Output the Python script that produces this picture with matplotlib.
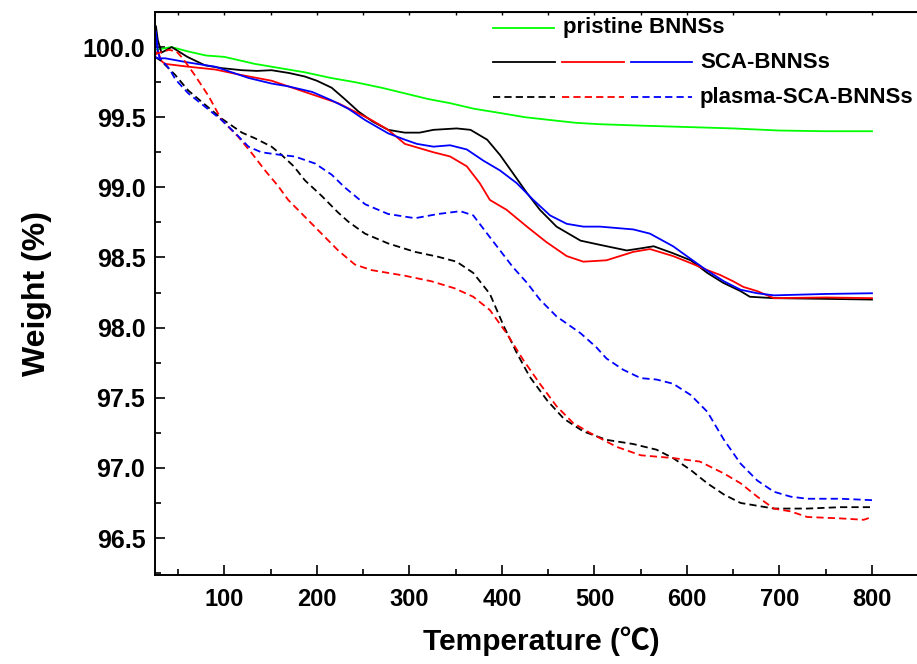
import numpy as np
import matplotlib
matplotlib.use("Agg")
import matplotlib.pyplot as plt
from matplotlib.lines import Line2D

# ---- data (temperature in C, weight in %) ----
pristine_t = [25, 43, 60, 80, 100, 133, 160, 187, 215, 241, 270, 295, 320, 344, 370,
              398, 425, 452, 480, 506, 550, 600, 650, 700, 750, 800]
pristine_w = [99.98, 100.0, 99.97, 99.94, 99.93, 99.88, 99.85, 99.82, 99.78, 99.75, 99.71,
              99.67, 99.63, 99.60, 99.56, 99.53, 99.50, 99.48, 99.46, 99.45, 99.44, 99.43,
              99.42, 99.405, 99.40, 99.40]

sca1_t = [25, 26, 28, 32, 43, 60, 79, 97, 119, 135, 151, 170, 187, 200, 216, 230, 245,
          260, 277, 295, 311, 326, 351, 366, 384, 398, 412, 427, 441, 459, 485, 506, 535,
          550, 564, 585, 604, 622, 639, 658, 668, 694, 750, 800]
sca1_w = [99.95, 100.15, 100.05, 99.96, 100.0, 99.93, 99.87, 99.85, 99.835, 99.83, 99.835,
          99.815, 99.79, 99.76, 99.71, 99.63, 99.54, 99.47, 99.41, 99.39, 99.39, 99.41,
          99.42, 99.41, 99.34, 99.23, 99.10, 98.96, 98.84, 98.72, 98.62, 98.59, 98.55,
          98.565, 98.58, 98.53, 98.48, 98.39, 98.32, 98.26, 98.22, 98.21, 98.205, 98.20]

sca2_t = [25, 28, 32, 36, 61, 90, 119, 151, 187, 223, 259, 277, 295, 326, 344, 362, 376,
          387, 405, 427, 448, 470, 488, 513, 542, 560, 585, 604, 622, 636, 650, 661, 676,
          694, 750, 800]
sca2_w = [99.94, 99.97, 99.90, 99.88, 99.86, 99.84, 99.80, 99.76, 99.68, 99.60, 99.48,
          99.41, 99.31, 99.25, 99.22, 99.15, 99.03, 98.91, 98.84, 98.72, 98.61, 98.51,
          98.47, 98.48, 98.54, 98.56, 98.51, 98.46, 98.41, 98.375, 98.33, 98.29, 98.26,
          98.21, 98.215, 98.21]

sca3_t = [25, 26, 28, 30, 36, 61, 90, 108, 126, 151, 169, 195, 216, 234, 252, 277, 295,
          308, 326, 344, 362, 380, 398, 416, 434, 452, 470, 488, 506, 524, 542, 560, 585,
          604, 621, 640, 658, 676, 694, 750, 800]
sca3_w = [99.93, 100.11, 99.98, 99.92, 99.92, 99.89, 99.86, 99.82, 99.78, 99.74, 99.72,
          99.68, 99.62, 99.56, 99.48, 99.385, 99.34, 99.31, 99.29, 99.30, 99.27, 99.19,
          99.12, 99.03, 98.91, 98.80, 98.74, 98.72, 98.72, 98.71, 98.70, 98.67, 98.58,
          98.49, 98.41, 98.33, 98.27, 98.245, 98.23, 98.24, 98.245]

plasma1_t = [25, 32, 47, 61, 79, 97, 119, 133, 151, 162, 175, 187, 205, 223, 234, 252,
             277, 306, 331, 351, 369, 387, 402, 416, 430, 449, 467, 488, 513, 542, 567,
             585, 604, 622, 640, 658, 676, 694, 730, 766, 800]
plasma1_w = [99.93, 99.90, 99.80, 99.69, 99.59, 99.49, 99.39, 99.35, 99.29, 99.23, 99.15,
             99.05, 98.94, 98.82, 98.755, 98.67, 98.60, 98.54, 98.505, 98.47, 98.39, 98.24,
             98.01, 97.82, 97.65, 97.48, 97.35, 97.26, 97.20, 97.17, 97.13, 97.07, 96.985,
             96.89, 96.81, 96.75, 96.73, 96.71, 96.71, 96.72, 96.72]

plasma2_t = [25, 40, 48, 55, 68, 83, 97, 115, 130, 144, 158, 169, 187, 205, 223, 241,
             259, 295, 324, 349, 369, 387, 405, 423, 441, 459, 477, 495, 524, 550, 585,
             614, 640, 658, 676, 694, 712, 730, 766, 791, 800]
plasma2_w = [99.95, 99.98, 99.97, 99.92, 99.80, 99.65, 99.48, 99.36, 99.24, 99.12, 99.01,
             98.91, 98.79, 98.67, 98.55, 98.45, 98.41, 98.37, 98.33, 98.28, 98.22, 98.125,
             97.96, 97.77, 97.60, 97.44, 97.32, 97.25, 97.15, 97.09, 97.07, 97.045, 96.96,
             96.89, 96.795, 96.71, 96.69, 96.65, 96.64, 96.63, 96.65]

plasma3_t = [25, 32, 41, 47, 61, 79, 97, 112, 126, 140, 162, 176, 198, 216, 230, 252, 277,
             306, 331, 355, 369, 384, 398, 412, 427, 441, 459, 485, 502, 513, 531, 550,
             567, 585, 604, 622, 640, 658, 676, 694, 712, 730, 766, 800]
plasma3_w = [99.93, 99.91, 99.84, 99.77, 99.67, 99.575, 99.48, 99.385, 99.29, 99.25, 99.23,
             99.22, 99.17, 99.09, 99.00, 98.88, 98.81, 98.78, 98.81, 98.83, 98.80, 98.67,
             98.55, 98.43, 98.32, 98.20, 98.08, 97.96, 97.86, 97.78, 97.70, 97.64, 97.63,
             97.60, 97.52, 97.40, 97.20, 97.03, 96.91, 96.83, 96.795, 96.78, 96.78, 96.77]

legend_labels = ["pristine BNNSs", "SCA-BNNSs", "plasma-SCA-BNNSs"]

plt.rcParams['font.family'] = ['Liberation Sans', 'DejaVu Sans']
plt.rcParams['font.weight'] = 'bold'

W, H = 917, 664
fig = plt.figure(figsize=(W / 100, H / 100), dpi=100)
# right spine sits just outside the picture, like the original export
ax = fig.add_axes([155 / W, (H - 574.5) / H, 772.5 / W, 562.5 / H])

lw = 1.3
dash = (0, (4.0, 2.3))
ax.plot(pristine_t, pristine_w, color='#00ff00', lw=lw)
ax.plot(sca1_t, sca1_w, color='black', lw=lw)
ax.plot(sca2_t, sca2_w, color='#ff0000', lw=lw)
ax.plot(sca3_t, sca3_w, color='#0000ff', lw=lw)
ax.plot(plasma1_t, plasma1_w, color='black', lw=lw, ls=dash)
ax.plot(plasma2_t, plasma2_w, color='#ff0000', lw=lw, ls=dash)
ax.plot(plasma3_t, plasma3_w, color='#0000ff', lw=lw, ls=dash)

ax.set_xlim(25, 860)
ax.set_ylim(96.24, 100.25)
ax.set_xticks(np.arange(100, 801, 100))
ax.set_xticks(np.arange(50, 851, 50), minor=True)
ax.set_yticks(np.arange(96.5, 100.01, 0.5))
ax.set_yticks(np.arange(96.25, 100.26, 0.25), minor=True)
ax.yaxis.set_major_formatter(plt.FormatStrFormatter('%.1f'))
ax.tick_params(which='major', direction='in', length=7, width=1.2, pad=7)
ax.tick_params(which='minor', direction='in', length=4, width=1.2)
ax.tick_params(axis='x', labelsize=17, pad=10)
ax.tick_params(axis='y', labelsize=18, pad=7)
for s in ax.spines.values():
    s.set_linewidth(1.4)

top = ax.secondary_xaxis('top')
top.set_xticks(np.arange(50, 851, 50))
top.tick_params(direction='in', length=2.5, width=1.0, labeltop=False)

ax.set_xlabel('Temperature (℃)', fontsize=21.5, fontweight='bold', labelpad=11,
              family=['Liberation Sans', 'Noto Sans CJK SC'])
ax.set_ylabel('Weight (%)', fontsize=23, fontweight='bold', labelpad=22)


# hand-built legend in pixel coordinates of the figure
def fx(px):
    return px / W


def fy(py):
    return 1 - py / H


def seg(x0, x1, y, color, ls='-'):
    fig.add_artist(Line2D([fx(x0), fx(x1)], [fy(y), fy(y)], color=color, lw=lw, ls=ls,
                          transform=fig.transFigure))


seg(493, 554, 28, '#00ff00')
fig.text(fx(563), fy(28), legend_labels[0], fontsize=16, fontweight='bold', va='center')
for row, ls in ((62, '-'), (97, dash)):
    seg(493, 555, row, 'black', ls)
    seg(562, 624, row, '#ff0000', ls)
    seg(631, 692, row, '#0000ff', ls)
fig.text(fx(700), fy(62), legend_labels[1], fontsize=16, fontweight='bold', va='center')
fig.text(fx(700), fy(97), legend_labels[2], fontsize=16, fontweight='bold', va='center')

fig.savefig('out.png', dpi=100)
